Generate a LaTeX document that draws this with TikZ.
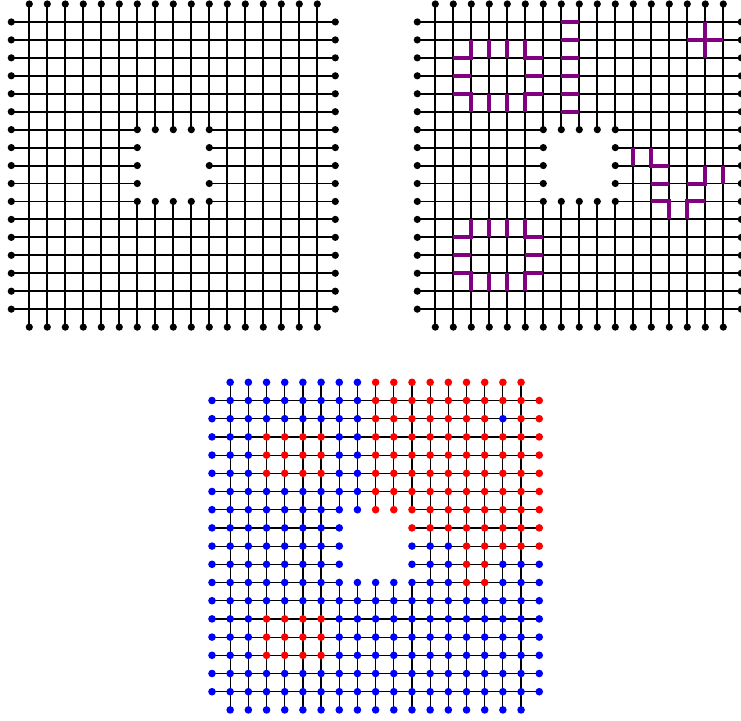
\documentclass[tikz,border=0pt]{standalone}
\definecolor{wallpurple}{RGB}{128,0,128}
\definecolor{spinred}{RGB}{255,0,0}
\definecolor{spinblue}{RGB}{0,0,255}
\begin{document}
\begin{tikzpicture}[x=1pt,y=-1pt,
  wall/.style={line width=4pt, draw=wallpurple, line join=miter, line cap=butt},
  bdot/.style={fill=black},
  reddot/.style={fill=spinred},
  bluedot/.style={fill=spinblue}]
\useasboundingbox (0,0) rectangle (741,720);
% lattice coordinates
\foreach \i in {0,...,18}{
  \foreach \j in {0,...,18}{
    \coordinate (a-\i-\j) at ({11.3+18*\i},{4+17.95*\j});
    \coordinate (b-\i-\j) at ({417.3+18*\i},{4+17.95*\j});
    \coordinate (c-\i-\j) at ({212+18.18*\i},{382.3+18.2*\j});
  }
}
% lattice lines
\foreach \L/\w in {a/1.9pt,b/1.9pt,c/1.2pt}{
  \foreach \k in {1,2,3,4,5,6,12,13,14,15,16,17}{
    \draw[line width=\w] (\L-0-\k) -- (\L-18-\k);
    \draw[line width=\w] (\L-\k-0) -- (\L-\k-18);
  }
  \foreach \k in {7,...,11}{
    \draw[line width=\w] (\L-0-\k) -- (\L-7-\k);
    \draw[line width=\w] (\L-11-\k) -- (\L-18-\k);
    \draw[line width=\w] (\L-\k-0) -- (\L-\k-7);
    \draw[line width=\w] (\L-\k-11) -- (\L-\k-18);
  }
}
% purple walls on lattice b
\draw[wall] (b-2-3) -- (b-3-3) -- (b-3-2);
\draw[wall] (b-4-2) -- (b-4-3);
\draw[wall] (b-5-2) -- (b-5-3);
\draw[wall] (b-6-2) -- (b-6-3) -- (b-7-3);
\draw[wall] (b-2-4) -- (b-3-4);
\draw[wall] (b-6-4) -- (b-7-4);
\draw[wall] (b-2-5) -- (b-3-5) -- (b-3-6);
\draw[wall] (b-4-5) -- (b-4-6);
\draw[wall] (b-5-5) -- (b-5-6);
\draw[wall] (b-7-5) -- (b-6-5) -- (b-6-6);
\draw[wall] (b-2-13) -- (b-3-13) -- (b-3-12);
\draw[wall] (b-4-12) -- (b-4-13);
\draw[wall] (b-5-12) -- (b-5-13);
\draw[wall] (b-6-12) -- (b-6-13) -- (b-7-13);
\draw[wall] (b-2-14) -- (b-3-14);
\draw[wall] (b-6-14) -- (b-7-14);
\draw[wall] (b-2-15) -- (b-3-15) -- (b-3-16);
\draw[wall] (b-4-15) -- (b-4-16);
\draw[wall] (b-5-15) -- (b-5-16);
\draw[wall] (b-7-15) -- (b-6-15) -- (b-6-16);
\foreach \k in {1,...,6}{
  \draw[wall] (b-8-\k) -- (b-9-\k);
}
\draw[wall] (b-15-2) -- (b-17-2);
\draw[wall] (b-16-1) -- (b-16-3);
\draw[wall] (b-12-8) -- (b-12-9);
\draw[wall] (b-13-8) -- (b-13-9) -- (b-14-9);
\draw[wall] (b-13-10) -- (b-14-10);
\draw[wall] (b-15-10) -- (b-16-10) -- (b-16-9);
\draw[wall] (b-17-9) -- (b-17-10);
\draw[wall] (b-13-11) -- (b-14-11) -- (b-14-12);
\draw[wall] (b-16-11) -- (b-15-11) -- (b-15-12);
% boundary dots of lattices a and b
\foreach \L in {a,b}{
  \foreach \k in {1,...,17}{
    \fill[bdot] (\L-0-\k) circle (3.6pt);
    \fill[bdot] (\L-18-\k) circle (3.6pt);
    \fill[bdot] (\L-\k-0) circle (3.6pt);
    \fill[bdot] (\L-\k-18) circle (3.6pt);
  }
  \foreach \k in {7,...,11}{
    \fill[bdot] (\L-\k-7) circle (3.6pt);
    \fill[bdot] (\L-\k-11) circle (3.6pt);
  }
  \foreach \k in {8,9,10}{
    \fill[bdot] (\L-7-\k) circle (3.6pt);
    \fill[bdot] (\L-11-\k) circle (3.6pt);
  }
}
% coloured dots of lattice c
\foreach \i in {0,...,18}{
  \foreach \j in {0,...,18}{
    \pgfmathtruncatemacro\skipit{((\i==0 || \i==18) && (\j==0 || \j==18)) || (\i>7 && \i<11 && \j>7 && \j<11)}
    \pgfmathtruncatemacro\isred{((\i>8 && \j<8) && !(\i==16 && \j==2)) || (\i>10 && \j==8) || (\i>13 && \j==9) || ((\i==14 || \i==15) && (\j==10 || \j==11)) || (\i>2 && \i<7 && ((\j>2 && \j<6) || (\j>12 && \j<16)))}
    \ifnum\skipit=0
      \ifnum\isred=1
        \fill[reddot] (c-\i-\j) circle (3.8pt);
      \else
        \fill[bluedot] (c-\i-\j) circle (3.8pt);
      \fi
    \fi
  }
}
\end{tikzpicture}
\end{document}
